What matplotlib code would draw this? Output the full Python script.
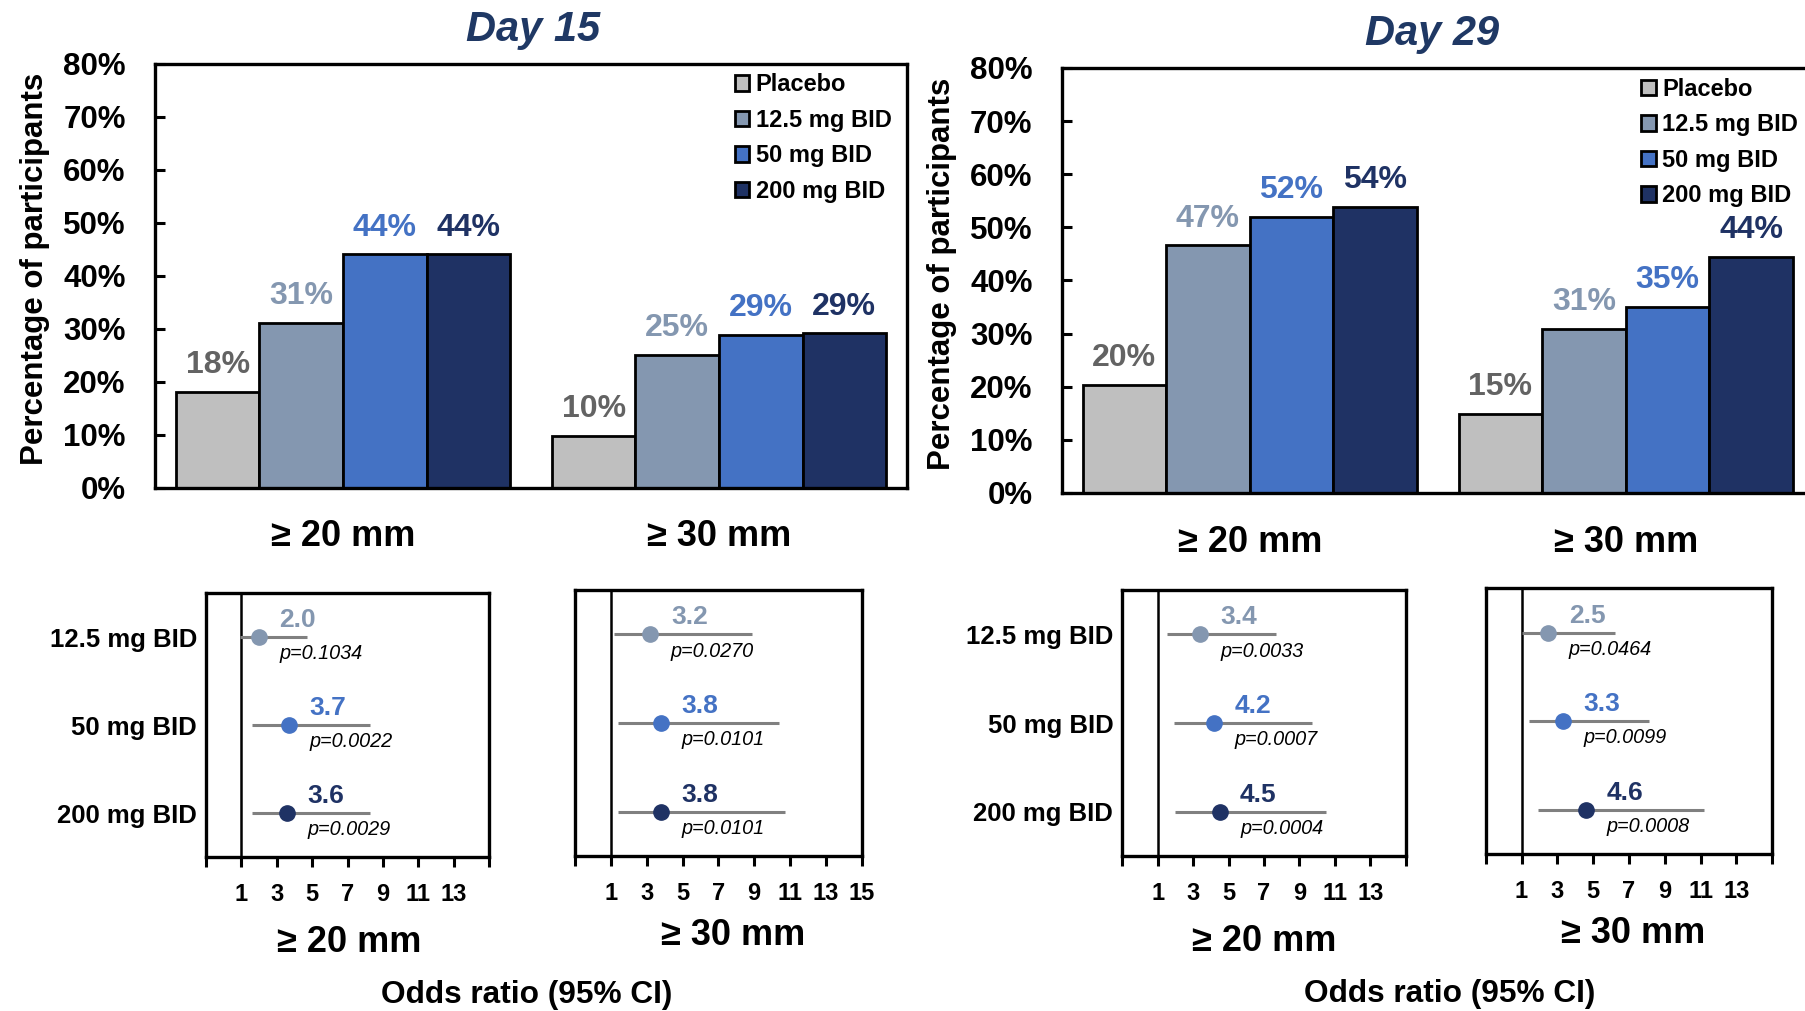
import numpy as np
import matplotlib
matplotlib.use('Agg')
import matplotlib.pyplot as plt

plt.rcParams['font.family'] = ['Liberation Sans', 'DejaVu Sans']
plt.rcParams['font.weight'] = 'bold'
plt.rcParams['axes.labelweight'] = 'bold'

# ---------------------------------------------------------------------------
# data
# ---------------------------------------------------------------------------
doses = ['Placebo', '12.5 mg BID', '50 mg BID', '200 mg BID']
thresholds = ['≥ 20 mm', '≥ 30 mm']
days = ['Day 15', 'Day 29']

# percentage of participants, [threshold][dose]
day15_pct = [[18.0, 31.0, 44.0, 44.0], [9.7, 25.0, 28.8, 29.1]]
day29_pct = [[20.3, 46.6, 51.9, 53.8], [14.9, 30.9, 35.0, 44.4]]

# odds ratios vs placebo, [threshold][active dose]
d15_or = [[2.0, 3.7, 3.6], [3.2, 3.8, 3.8]]
d15_lo = [[0.9, 1.6, 1.6], [1.2, 1.4, 1.4]]
d15_hi = [[4.7, 8.3, 8.3], [8.9, 10.4, 10.7]]
d15_p = [['0.1034', '0.0022', '0.0029'], ['0.0270', '0.0101', '0.0101']]

d29_or = [[3.4, 4.2, 4.5], [2.5, 3.3, 4.6]]
d29_lo = [[1.5, 1.9, 2.0], [1.05, 1.4, 1.9]]
d29_hi = [[7.7, 9.7, 10.5], [6.2, 8.1, 11.2]]
d29_p = [['0.0033', '0.0007', '0.0004'], ['0.0464', '0.0099', '0.0008']]

# ---------------------------------------------------------------------------
# styling
# ---------------------------------------------------------------------------
bar_colors = ['#BFBFBF', '#8497B0', '#4472C4', '#1F3264']
label_colors = ['#636363', '#8497B0', '#4472C4', '#1F3264']
title_color = '#1F3864'
ci_color = '#808080'
W, H = 1805, 1011


def px_axes(fig, left, top, right, bottom):
    return fig.add_axes([left / W, 1 - bottom / H, (right - left) / W, (bottom - top) / H])


def bar_panel(ax, pct):
    centers = np.array([2.25, 6.75])
    offsets = np.arange(4) - 1.5
    for j, dose in enumerate(doses):
        vals = [pct[0][j], pct[1][j]]
        xs = centers + offsets[j]
        ax.bar(xs, vals, width=1.0, color=bar_colors[j], edgecolor='black',
               linewidth=2.0, label=dose, zorder=2)
        for x, v in zip(xs, vals):
            ax.annotate(f'{v:.0f}%', (x, v), xytext=(0, 13.5), textcoords='offset points',
                        ha='center', va='baseline', fontsize=23, color=label_colors[j])
    ax.set_xlim(0, 9)
    ax.set_ylim(0, 80)
    ax.set_yticks(range(0, 81, 10))
    ax.set_yticklabels([f'{t}%' for t in range(0, 81, 10)])
    ax.set_xticks(centers)
    ax.set_xticklabels(thresholds)
    ax.tick_params(axis='y', direction='in', length=7.5, width=2.2, labelsize=22.5, pad=21)
    ax.tick_params(axis='x', length=0, labelsize=26, pad=23)
    ax.set_ylabel('Percentage of participants', fontsize=22.5)
    ax.yaxis.set_label_coords(-0.139, 0.515)
    for s in ax.spines.values():
        s.set_linewidth(2.4)
    ax.legend(loc='upper left', bbox_to_anchor=(0.771, 0.977), frameon=False,
              fontsize=17, handlelength=0.62, handleheight=0.62, handletextpad=0.26,
              labelspacing=0.53, borderpad=0, borderaxespad=0)


def forest_panel(ax, ors, lo, hi, pv, show_rows, show_15):
    ys = [2.5, 1.5, 0.5]
    ax.axvline(1, color='black', lw=1.8, zorder=1)
    for k in range(3):
        ax.hlines(ys[k], lo[k], hi[k], color=ci_color, lw=2.2, zorder=2)
        ax.plot(ors[k], ys[k], 'o', ms=11, color=bar_colors[k + 1], zorder=3)
        ax.text(ors[k] + 1.15, ys[k] + 0.19, f'{ors[k]:.1f}', ha='left', va='center',
                fontsize=19, color=label_colors[k + 1])
        ax.text(ors[k] + 1.15, ys[k] - 0.19, f'p={pv[k]}', ha='left', va='center',
                fontsize=14.3, fontweight='normal', style='italic', color='black')
    ax.set_xlim(-1, 15)
    ax.set_ylim(0, 3)
    ticks = list(range(-1, 16, 2))
    ax.set_xticks(ticks)
    labels = [str(t) if 0 < t < 15 or (t == 15 and show_15) else '' for t in ticks]
    ax.set_xticklabels(labels)
    ax.tick_params(axis='x', direction='out', length=7, width=2.2, labelsize=17, pad=12)
    ax.set_yticks(ys)
    if show_rows:
        ax.set_yticklabels(doses[1:])
    else:
        ax.set_yticklabels([])
    ax.tick_params(axis='y', length=0, labelsize=18.5, pad=6.5)
    for s in ax.spines.values():
        s.set_linewidth(2.4)


fig = plt.figure(figsize=(W / 100, H / 100), dpi=100)

ax_b15 = px_axes(fig, 155, 63.6, 907, 487.5)
ax_b29 = px_axes(fig, 1061.7, 67.9, 1813.7, 492.9)
bar_panel(ax_b15, day15_pct)
bar_panel(ax_b29, day29_pct)

fig.text(533 / W, 1 - 41 / H, days[0], ha='center', va='baseline', fontsize=30,
         style='italic', color=title_color)
fig.text(1432 / W, 1 - 45 / H, days[1], ha='center', va='baseline', fontsize=30,
         style='italic', color=title_color)

f1 = px_axes(fig, 206, 593, 489, 857)
f2 = px_axes(fig, 575, 590, 861.7, 856)
f3 = px_axes(fig, 1122.3, 590, 1405.7, 856)
f4 = px_axes(fig, 1485.7, 588.3, 1772.3, 854)

forest_panel(f1, d15_or[0], d15_lo[0], d15_hi[0], d15_p[0], True, False)
forest_panel(f2, d15_or[1], d15_lo[1], d15_hi[1], d15_p[1], False, True)
forest_panel(f3, d29_or[0], d29_lo[0], d29_hi[0], d29_p[0], True, False)
forest_panel(f4, d29_or[1], d29_lo[1], d29_hi[1], d29_p[1], False, False)

# threshold labels under each forest panel
for ax, th, x, y in [(f1, thresholds[0], 0.507, -0.36), (f2, thresholds[1], 0.551, -0.335),
                     (f3, thresholds[0], 0.502, -0.357), (f4, thresholds[1], 0.514, -0.335)]:
    ax.text(x, y, th, transform=ax.transAxes, ha='center', va='baseline', fontsize=26)

fig.text(526.7 / W, 1 - 1003 / H, 'Odds ratio (95% CI)', ha='center', va='baseline', fontsize=22.8)
fig.text(1450 / W, 1 - 1002 / H, 'Odds ratio (95% CI)', ha='center', va='baseline', fontsize=22.8)

fig.savefig('out.png', dpi=100)
